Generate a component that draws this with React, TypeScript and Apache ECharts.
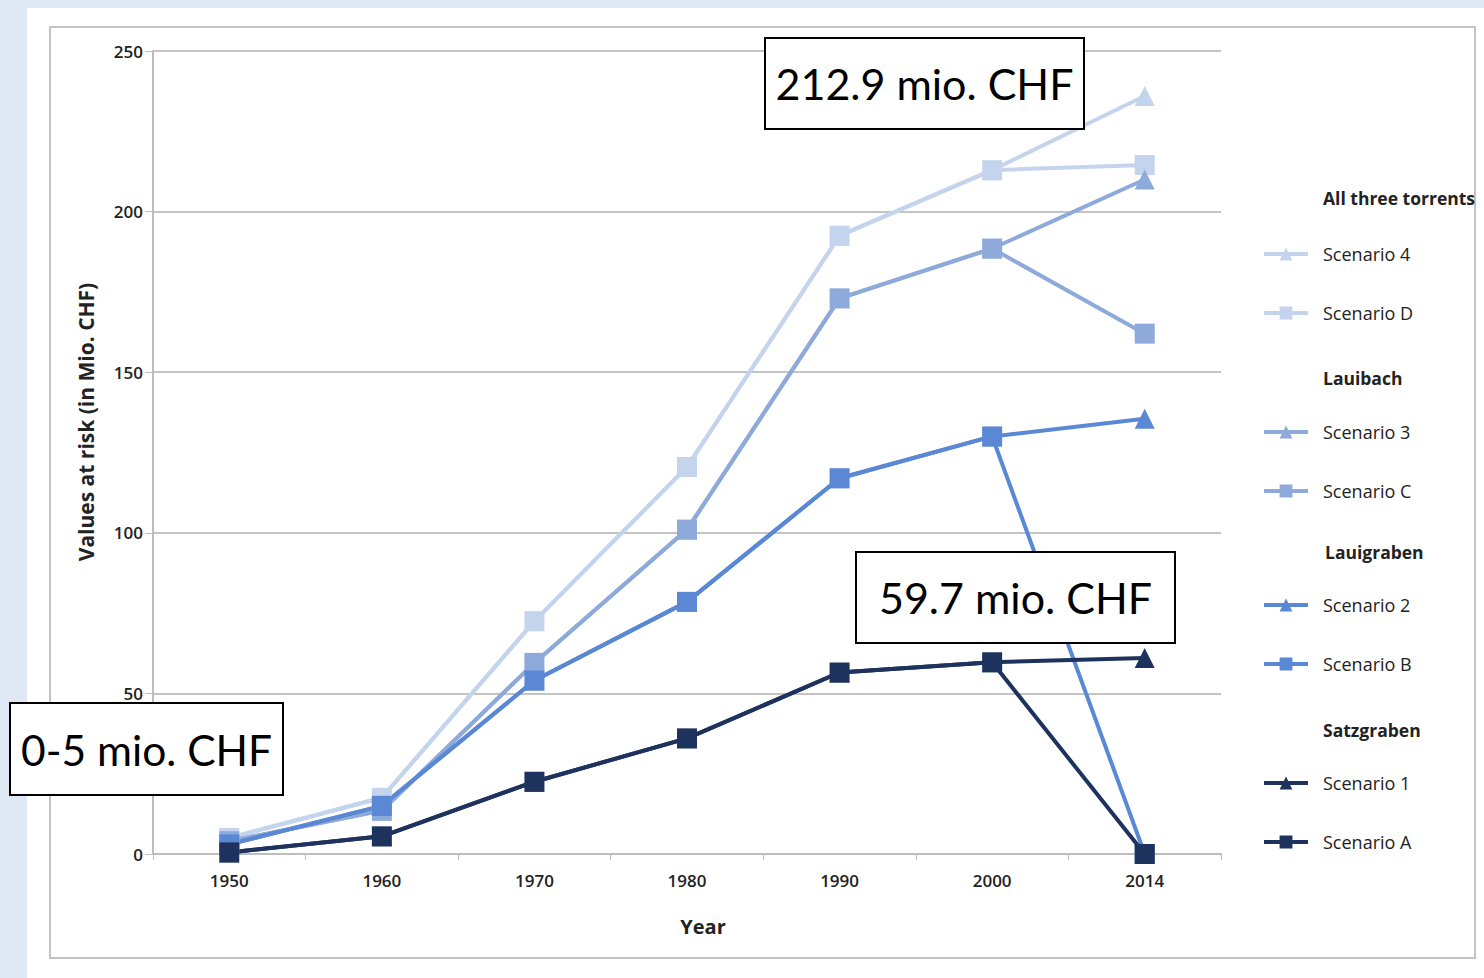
import React, { useEffect, useRef } from "react";
import * as echarts from "echarts";

const years = ["1950", "1960", "1970", "1980", "1990", "2000", "2014"];
const scenario4 = [5, 17.5, 72.5, 120.5, 192.5, 212.9, 236];
const scenarioD = [5, 17.5, 72.5, 120.5, 192.5, 212.9, 214.5];
const scenario3 = [4, 13.5, 59.5, 101, 173, 188.5, 210];
const scenarioC = [4, 13.5, 59.5, 101, 173, 188.5, 162];
const scenario2 = [3, 15, 54, 78.5, 117, 130, 135.5];
const scenarioB = [3, 15, 54, 78.5, 117, 130, 0];
const scenario1 = [0.5, 5.5, 22.5, 36, 56.5, 59.7, 61];
const scenarioA = [0.5, 5.5, 22.5, 36, 56.5, 59.7, 0];

const groupHeaders = ["All three torrents", "Lauibach", "Lauigraben", "Satzgraben"];
const annotations = ["212.9 mio. CHF", "59.7 mio. CHF", "0-5 mio. CHF"];
const axisNames = { x: "Year", y: "Values at risk (in Mio. CHF)" };
const yTicks = { min: 0, max: 250, interval: 50 };

const C4 = "#c5d4ed";
const C3 = "#8eaadb";
const C2 = "#5a88d4";
const C1 = "#1d325c";

export default function App() {
  const ref = useRef<HTMLDivElement>(null);
  useEffect(() => {
    if (!ref.current) return;
    const chart = echarts.init(ref.current, undefined, { renderer: "svg" });
    const mk = (name: string, data: number[], color: string, symbol: string) => ({
      name,
      type: "line",
      data,
      symbol,
      symbolSize: 20,
      lineStyle: { color, width: 4 },
      itemStyle: { color },
      z: 3,
    });
    const font = "Open Sans";
    const legendBase = (names: string[], top: number) => ({
      orient: "vertical",
      left: 1262,
      top,
      padding: 0,
      itemWidth: 44,
      itemHeight: 16,
      itemGap: 41,
      selectedMode: false,
      data: names,
      lineStyle: { width: 4 },
      textStyle: { fontFamily: font, fontSize: 18, color: "#222", padding: [0, 0, 0, 10] },
    });
    const box = (text: string, x: number, y: number, w: number, h: number, fs: number) => ({
      type: "group",
      z: 100,
      children: [
        {
          type: "rect",
          shape: { x, y, width: w, height: h },
          style: { fill: "#fff", stroke: "#000", lineWidth: 2 },
          z: 100,
        },
        {
          type: "text",
          x: x + w / 2,
          y: y + h / 2,
          z: 101,
          style: {
            text,
            fontFamily: "Lato",
            fontSize: fs,
            fill: "#000",
            align: "center",
            verticalAlign: "middle",
          },
        },
      ],
    });
    const header = (text: string, x: number, y: number) => ({
      type: "text",
      x,
      y,
      z: 10,
      style: {
        text,
        fontFamily: font,
        fontSize: 17.5,
        fontWeight: "bold",
        fill: "#222",
        verticalAlign: "middle",
      },
    });
    chart.setOption({
      animation: false,
      backgroundColor: "#dfe9f6",
      grid: { left: 153, right: 263, top: 51, bottom: 124 },
      xAxis: {
        type: "category",
        data: years,
        boundaryGap: true,
        axisLine: { lineStyle: { color: "#bdbdbd", width: 2 } },
        axisTick: { show: true, length: 6, interval: 0, lineStyle: { color: "#bdbdbd", width: 1 } },
        axisLabel: { fontFamily: font, fontSize: 17, fontWeight: 600, color: "#222", margin: 18, interval: 0 },
      },
      yAxis: {
        type: "value",
        min: yTicks.min,
        max: yTicks.max,
        interval: yTicks.interval,
        axisLine: { show: true, lineStyle: { color: "#bdbdbd", width: 2 } },
        axisTick: { show: true, length: 8, lineStyle: { color: "#bdbdbd", width: 1 } },
        splitLine: { lineStyle: { color: "#c4c4c4", width: 2 } },
        axisLabel: { fontFamily: font, fontSize: 17, fontWeight: 600, color: "#222", margin: 10 },
      },
      legend: [
        legendBase(["Scenario 4", "Scenario D"], 245),
        legendBase(["Scenario 3", "Scenario C"], 423),
        legendBase(["Scenario 2", "Scenario B"], 596),
        legendBase(["Scenario 1", "Scenario A"], 774),
      ],
      graphic: [
        {
          type: "rect",
          z: -10,
          silent: true,
          shape: { x: 27, y: 8, width: 1457, height: 970 },
          style: { fill: "#fff" },
        },
        {
          type: "rect",
          z: -9,
          silent: true,
          shape: { x: 50, y: 27, width: 1425, height: 931 },
          style: { fill: "#fff", stroke: "#c4c4c4", lineWidth: 2 },
        },
        {
          type: "text",
          x: 86,
          y: 422,
          rotation: Math.PI / 2,
          z: 10,
          style: {
            text: axisNames.y,
            fontFamily: font,
            fontSize: 21,
            fontWeight: "bold",
            fill: "#222",
            align: "center",
            verticalAlign: "middle",
          },
        },
        {
          type: "text",
          x: 703,
          y: 926,
          z: 10,
          style: {
            text: axisNames.x,
            fontFamily: font,
            fontSize: 20,
            fontWeight: "bold",
            fill: "#222",
            align: "center",
            verticalAlign: "middle",
          },
        },
        header(groupHeaders[0], 1323, 198),
        header(groupHeaders[1], 1323, 378),
        header(groupHeaders[2], 1325, 552),
        header(groupHeaders[3], 1323, 730),
        box(annotations[0], 765, 38, 319, 91, 43),
        box(annotations[1], 856, 552, 319, 91, 43),
        box(annotations[2], 10, 703, 273, 92, 42.5),
      ],
      series: [
        mk("Scenario 4", scenario4, C4, "triangle"),
        mk("Scenario D", scenarioD, C4, "rect"),
        mk("Scenario 3", scenario3, C3, "triangle"),
        mk("Scenario C", scenarioC, C3, "rect"),
        mk("Scenario 2", scenario2, C2, "triangle"),
        mk("Scenario B", scenarioB, C2, "rect"),
        mk("Scenario 1", scenario1, C1, "triangle"),
        mk("Scenario A", scenarioA, C1, "rect"),
      ],
    });
    return () => chart.dispose();
  }, []);
  return (
    <div
      ref={ref}
      style={{ position: "absolute", left: 0, top: 0, width: 1484, height: 978 }}
    />
  );
}
